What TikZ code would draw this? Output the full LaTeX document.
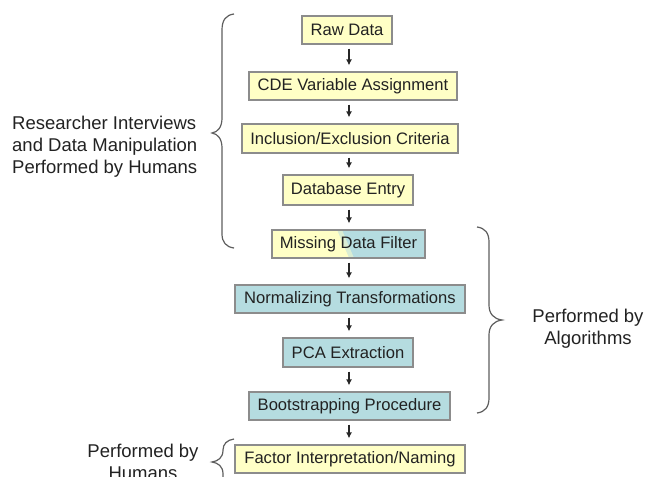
\documentclass[tikz,border=0pt]{standalone}
\usepackage{fontspec}
\setmainfont{Liberation Sans}
\usetikzlibrary{arrows.meta}
\definecolor{yel}{HTML}{FFFFC6}
\definecolor{blu}{HTML}{B5DCE0}
\definecolor{edge}{HTML}{8C8C8C}
\definecolor{txt}{HTML}{222222}
\definecolor{brc}{HTML}{5E5E5E}
\begin{document}
\begin{tikzpicture}[x=1pt,y=-1pt,
  box/.style={draw=edge, line width=1.2pt, inner sep=0pt, text=txt,
    font=\fontsize{16.6}{20}\selectfont},
  ybox/.style={box, fill=yel},
  bbox/.style={box, fill=blu},
  arr/.style={-{Latex[length=6pt,width=6pt]}, line width=1.3pt, black!85,
    shorten <=4pt, shorten >=6pt},
  brace/.style={draw=brc, line width=1.2pt},
  lbl/.style={text=txt, font=\fontsize{18.5}{22}\selectfont, inner sep=0pt}]
\useasboundingbox (0,0) rectangle (657,477);
\coordinate (ax) at (349,0);

\node[ybox, minimum width=90pt, minimum height=28pt] (raw) at (347,30) {Raw Data};
\node[ybox, minimum width=208pt, minimum height=28pt] (cde) at (353,86) {CDE Variable Assignment};
\node[ybox, minimum width=216pt, minimum height=29pt] (inc) at (350,138.5) {Inclusion/Exclusion Criteria};
\node[ybox, minimum width=130pt, minimum height=30pt] (db) at (348,190) {Database Entry};
\node[box, minimum width=153pt, minimum height=28pt,
  path picture={
    \fill[blu] (path picture bounding box.south west) rectangle (path picture bounding box.north east);
    \fill[yel!50!blu] (path picture bounding box.north west) -- ([xshift=70pt]path picture bounding box.north west)
      -- ([xshift=82pt]path picture bounding box.south west) -- (path picture bounding box.south west) -- cycle;
    \fill[yel] (path picture bounding box.north west) -- ([xshift=65pt]path picture bounding box.north west)
      -- ([xshift=77pt]path picture bounding box.south west) -- (path picture bounding box.south west) -- cycle;
  }] (mis) at (348.5,244) {Missing Data Filter};
\node[bbox, minimum width=230pt, minimum height=28pt] (nor) at (350,299) {Normalizing Transformations};
\node[bbox, minimum width=130pt, minimum height=29pt] (pca) at (348,352.5) {PCA Extraction};
\node[bbox, minimum width=201pt, minimum height=28pt] (boo) at (349.5,406) {Bootstrapping Procedure};
\node[ybox, minimum width=230pt, minimum height=28pt] (fac) at (350,459) {Factor Interpretation/Naming};

\draw[arr] (raw.south -| ax) -- (cde.north -| ax);
\draw[arr] (cde.south -| ax) -- (inc.north -| ax);
\draw[arr] (inc.south -| ax) -- (db.north -| ax);
\draw[arr] (db.south -| ax) -- (mis.north -| ax);
\draw[arr] (mis.south -| ax) -- (nor.north -| ax);
\draw[arr] (nor.south -| ax) -- (pca.north -| ax);
\draw[arr] (pca.south -| ax) -- (boo.north -| ax);
\draw[arr] (boo.south -| ax) -- (fac.north -| ax);

% braces
\draw[brace] (234,14) .. controls (226,15) and (222,20) .. (222,30) -- (222,118)
  .. controls (222,127) and (218,132) .. (212,133)
  .. controls (218,134) and (222,139) .. (222,148) -- (222,234)
  .. controls (222,242) and (226,247) .. (234,248);
\draw[brace] (477,227) .. controls (485,228) and (489,233) .. (489,242) -- (489,305)
  .. controls (489,314) and (494,319) .. (502,320)
  .. controls (494,321) and (489,326) .. (489,335) -- (489,398)
  .. controls (489,407) and (485,412) .. (477,413);
\draw[brace] (234,439) .. controls (227,440) and (223,444) .. (223,450)
  .. controls (223,458) and (218,461) .. (212,462)
  .. controls (218,463) and (223,466) .. (223,474) -- (223,490);

% labels
\node[lbl, align=left, anchor=north west] (lh) at (12,115.5)
  {Researcher Interviews\\and Data Manipulation\\Performed by Humans};
\node[lbl, align=center, anchor=north] (ra) at (588,308.5) {Performed by\\Algorithms};
\node[lbl, align=center, anchor=north] (bh) at (143,443.5) {Performed by\\Humans};
\end{tikzpicture}
\end{document}
